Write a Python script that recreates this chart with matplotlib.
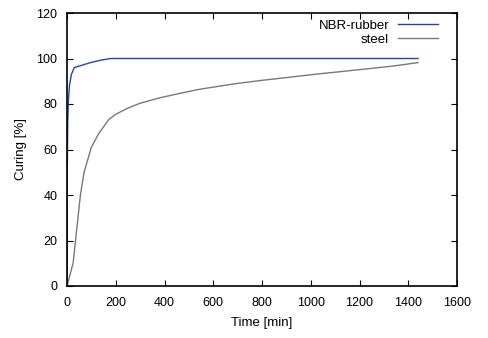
import matplotlib
matplotlib.use("Agg")
import matplotlib.pyplot as plt

plt.rcParams['font.family'] = ['Liberation Sans', 'DejaVu Sans']

# Curing degree over time
rubber_t = [0, 1, 3, 6, 10, 18, 30, 60, 100, 140, 180, 1440]
rubber_c = [0, 50, 72, 82, 88, 93, 96, 97, 98.3, 99.3, 100, 100]

steel_t = [0, 25, 40, 55, 70, 100, 130, 149, 170, 197, 250, 299, 380, 464, 540,
           628, 710, 792, 874, 956, 1038, 1120, 1200, 1280, 1360, 1440]
steel_c = [0, 10, 25, 40, 50, 61, 67, 69.8, 73, 75.3, 78.2, 80.3, 82.7, 84.7, 86.4,
           87.9, 89.2, 90.3, 91.3, 92.3, 93.3, 94.2, 95.1, 96.0, 97.0, 98.2]

xticks = [0, 200, 400, 600, 800, 1000, 1200, 1400, 1600]
yticks = [0, 20, 40, 60, 80, 100, 120]

fig = plt.figure(figsize=(4.88, 3.38), dpi=100)
ax = fig.add_axes([67/488, 52/338, 390/488, 273/338])

ax.plot(rubber_t, rubber_c, color='#1f47a8', lw=1.0, label='NBR-rubber')
ax.plot(steel_t, steel_c, color='#7d7774', lw=1.0, label='steel')

ax.set_xlim(0, 1600)
ax.set_ylim(0, 120)
ax.set_xticks(xticks)
ax.set_yticks(yticks)
ax.tick_params(direction='in', top=True, right=True, length=4, width=0.8, labelsize=9)
ax.tick_params(axis='x', pad=8)
ax.tick_params(axis='y', pad=7)
for s in ax.spines.values():
    s.set_linewidth(1.2)

ax.set_xlabel('Time [min]', fontsize=9.5, labelpad=6)
ax.set_ylabel('Curing [%]', fontsize=9.5, labelpad=7)

leg = ax.legend(loc='upper right', bbox_to_anchor=(0.965, 0.995), frameon=False,
                markerfirst=False, fontsize=9.5, handlelength=3.0,
                handletextpad=0.7, borderaxespad=0.0, labelspacing=0.15)

fig.savefig('out.png', dpi=100)
